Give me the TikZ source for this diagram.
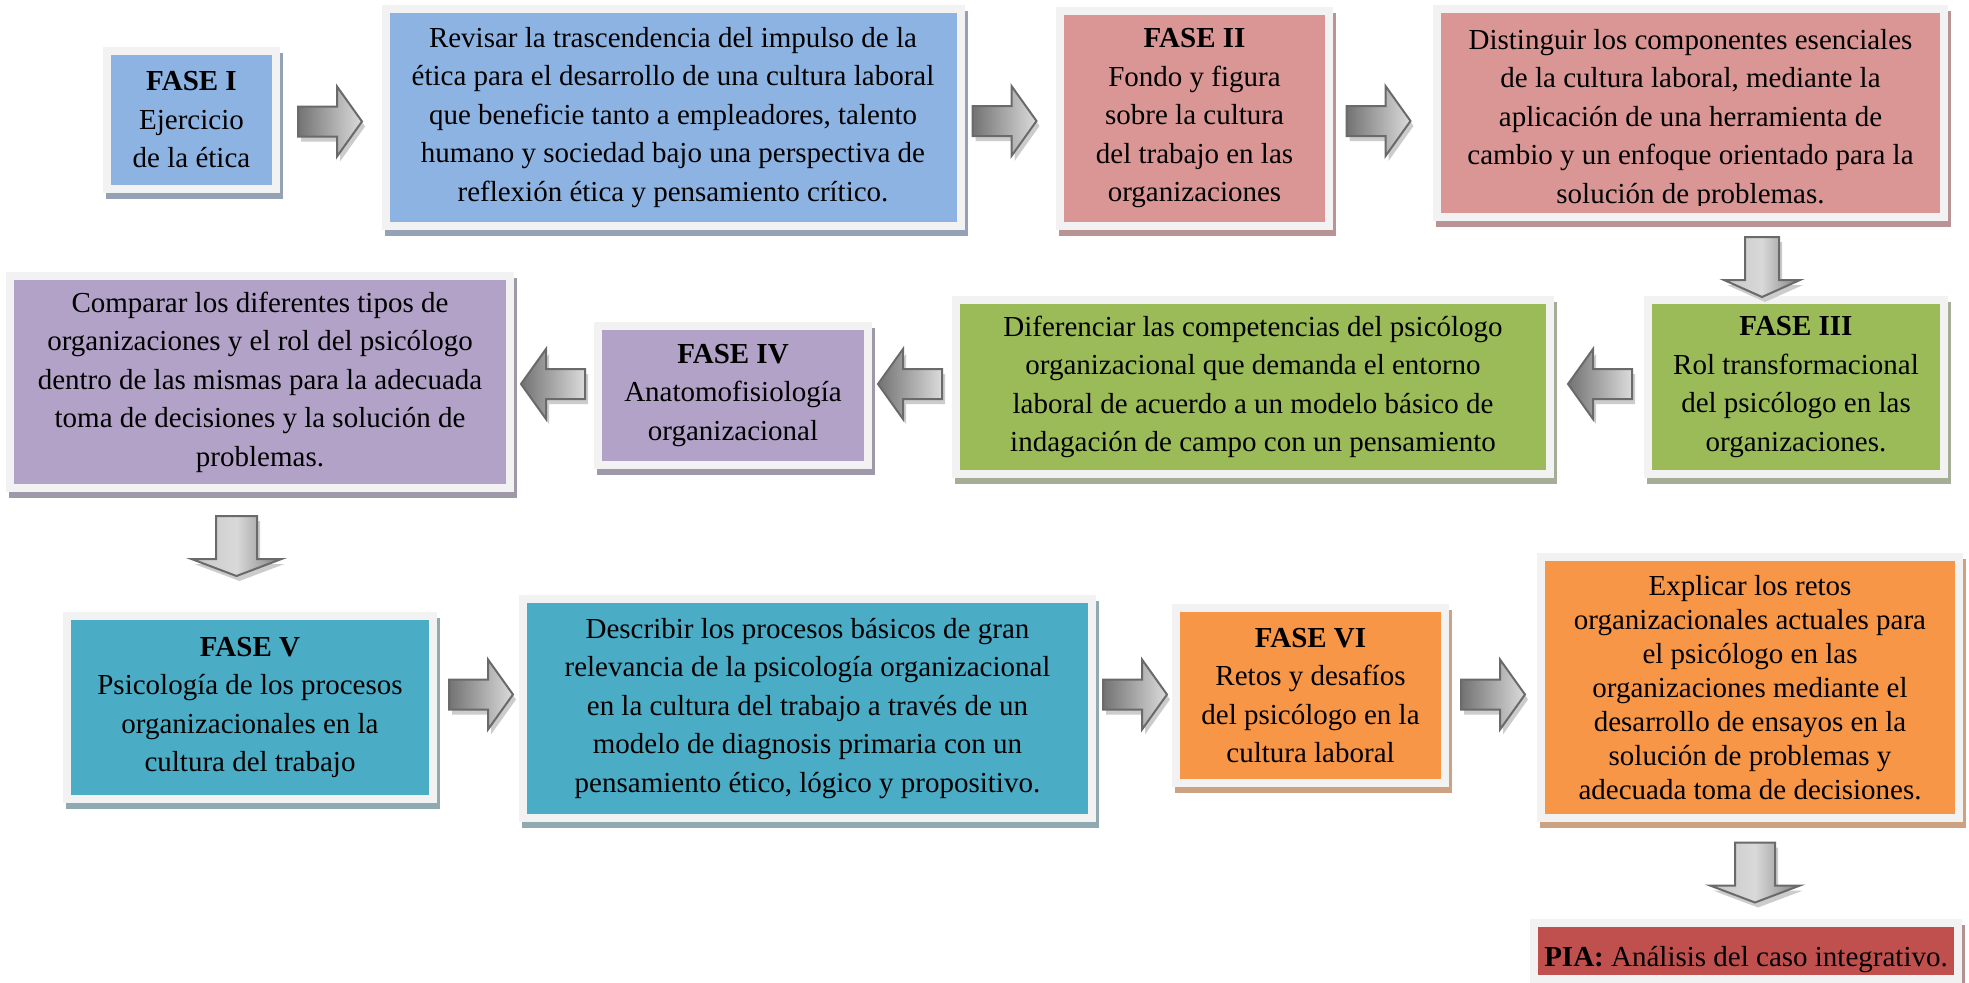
\documentclass[tikz,border=0pt]{standalone}
\usepackage{fontspec}
\setmainfont{Liberation Serif}
\usetikzlibrary{shadows}
\definecolor{frameC}{HTML}{F2F2F2}
\definecolor{blueF}{HTML}{8DB3E2}\definecolor{blueS}{HTML}{95A2B6}
\definecolor{pinkF}{HTML}{D99694}\definecolor{pinkS}{HTML}{B89495}
\definecolor{greenF}{HTML}{9BBB59}\definecolor{greenS}{HTML}{A5AD97}
\definecolor{purpF}{HTML}{B2A2C7}\definecolor{purpS}{HTML}{9E98A9}
\definecolor{tealF}{HTML}{4BACC6}\definecolor{tealS}{HTML}{91A9B1}
\definecolor{orangeF}{HTML}{F79646}\definecolor{orangeS}{HTML}{CDA283}
\definecolor{redF}{HTML}{C0504D}\definecolor{redS}{HTML}{B39091}
\definecolor{arrEdge}{HTML}{6A6A6A}
\newcommand\mainsz{\fontsize{29}{38.5}\selectfont}
\newcommand\Lsz{\fontsize{29}{34}\selectfont}
% horizontal block arrow: centre x, centre y, direction (1 right, -1 left)
\newcommand\HArr[3]{%
  \fill[arrshadow,shift={(#1+3,#2+5)},xscale=#3]
    (-32,-15) -- (7,-15) -- (7,-35) -- (32,0) -- (7,35) -- (7,15) -- (-32,15) -- cycle;
  \path[arrbody,shift={(#1,#2)},xscale=#3]
    (-32,-15) -- (7,-15) -- (7,-35) -- (32,0) -- (7,35) -- (7,15) -- (-32,15) -- cycle;}
% vertical (downward) block arrow: centre x, centre y, shaft half width, head half width
\newcommand\VArr[4]{%
  \fill[arrshadow,shift={(#1+3,#2+5)}]
    (-#3,-30) -- (#3,-30) -- (#3,13) -- (#4,13) -- (0,30) -- (-#4,13) -- (-#3,13) -- cycle;
  \path[varrbody,shift={(#1,#2)}]
    (-#3,-30) -- (#3,-30) -- (#3,13) -- (#4,13) -- (0,30) -- (-#4,13) -- (-#3,13) -- cycle;}
\begin{document}
\begin{tikzpicture}[x=1pt,y=-1pt,
  box/.style 2 args={draw=frameC, line width=8pt, fill=#1, inner sep=0pt, outer sep=0pt,
    align=center, font=\mainsz,
    drop shadow={shadow xshift=3pt, shadow yshift=-6pt, fill=#2, draw=#2, line width=8pt, opacity=1}},
  txt/.style={inner sep=0pt, align=center, font=\mainsz},
  arrshadow/.style={fill=black!20},
  arrbody/.style={draw=arrEdge, line width=2pt, left color=black!55, right color=black!14},
  varrbody/.style={draw=arrEdge, line width=2pt, left color=black!22, right color=black!50, middle color=black!15},
]
\fill[white] (0,0) rectangle (1969,982);
\useasboundingbox (0,0) rectangle (1969,982);

% ---- row 1
\node[box={blueF}{blueS}, minimum width=169, minimum height=138] (A) at (191.5,120)
  {\textbf{FASE I}\\Ejercicio\\de la ética};
\node[box={blueF}{blueS}, minimum width=575, minimum height=217] (B) at (673,117.5)
  {Revisar la trascendencia del impulso de la\\ética para el desarrollo de una cultura laboral\\que beneficie tanto a empleadores, talento\\humano y sociedad bajo una perspectiva de\\reflexión ética y pensamiento crítico.};
\node[box={pinkF}{pinkS}, minimum width=269, minimum height=215] (C) at (1194.5,118.5)
  {\textbf{FASE II}\\Fondo y figura\\sobre la cultura\\del trabajo en las\\organizaciones};
\node[box={pinkF}{pinkS}, minimum width=507, minimum height=208] (D) at (1690.5,113) {};
\begin{scope}
  \clip ([xshift=4pt,yshift=-4pt]D.north west) rectangle ([xshift=-4pt,yshift=12pt]D.south east);
  \node[txt] (Dt) at ([yshift=-6.5pt]D.center)
    {Distinguir los componentes esenciales\\de la cultura laboral, mediante la\\aplicación de una herramienta de\\cambio y un enfoque orientado para la\\solución de problemas.};
\end{scope}

% ---- row 2
\node[box={greenF}{greenS}, minimum width=296, minimum height=174] (E) at (1796,387)
  {\textbf{FASE III}\\Rol transformacional\\del psicólogo en las\\organizaciones.};
\node[box={greenF}{greenS}, minimum width=594, minimum height=174] (F) at (1253,387)
  {Diferenciar las competencias del psicólogo\\organizacional que demanda el entorno\\laboral de acuerdo a un modelo básico de\\indagación de campo con un pensamiento};
\node[box={purpF}{purpS}, minimum width=270, minimum height=139] (G) at (733,395.5)
  {\textbf{FASE IV}\\Anatomofisiología\\organizacional};
\node[box={purpF}{purpS}, minimum width=500, minimum height=212] (H) at (260,382)
  {Comparar los diferentes tipos de\\organizaciones y el rol del psicólogo\\dentro de las mismas para la adecuada\\toma de decisiones y la solución de\\problemas.};

% ---- row 3
\node[box={tealF}{tealS}, minimum width=366, minimum height=183] (I) at (250,707.5)
  {\textbf{FASE V}\\Psicología de los procesos\\organizacionales en la\\cultura del trabajo};
\node[box={tealF}{tealS}, minimum width=569, minimum height=219] (J) at (807.5,708.5)
  {Describir los procesos básicos de gran\\relevancia de la psicología organizacional\\en la cultura del trabajo a través de un\\modelo de diagnosis primaria con un\\pensamiento ético, lógico y propositivo.};
\node[box={orangeF}{orangeS}, minimum width=269, minimum height=175] (K) at (1310.5,695.5)
  {\textbf{FASE VI}\\Retos y desafíos\\del psicólogo en la\\cultura laboral};
\node[box={orangeF}{orangeS}, minimum width=418, minimum height=261, font=\Lsz] (L) at (1750,687.5)
  {Explicar los retos\\organizacionales actuales para\\el psicólogo en las\\organizaciones mediante el\\desarrollo de ensayos en la\\solución de problemas y\\adecuada toma de decisiones.};
\node[box={redF}{redS}, minimum width=424, minimum height=56] (M) at (1746,951) {};
\begin{scope}
  \clip ([xshift=4pt,yshift=-4pt]M.north west) rectangle ([xshift=-4pt,yshift=7pt]M.south east);
  \node[inner sep=0pt, anchor=base, font=\fontsize{29}{31}\selectfont] (Mt) at (1746,966)
    {\textbf{PIA:} Análisis del caso integrativo.};
\end{scope}

% ---- block arrows
\HArr{330}{121.5}{1}
\HArr{1004.5}{121}{1}
\HArr{1378.5}{121}{1}
\VArr{1762}{267}{17}{38}
\HArr{1600}{384}{-1}
\HArr{910}{384}{-1}
\HArr{553}{384}{-1}
\VArr{236.5}{546}{20.5}{45}
\HArr{481}{694.5}{1}
\HArr{1135}{694.5}{1}
\HArr{1493}{694.5}{1}
\VArr{1755}{872.5}{20}{45}
\end{tikzpicture}
\end{document}
